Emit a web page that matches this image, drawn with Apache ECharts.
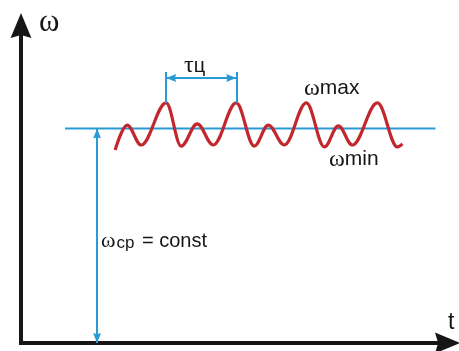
<!DOCTYPE html>
<html>
<head>
<meta charset="utf-8">
<script src="https://cdn.jsdelivr.net/npm/echarts@6/dist/echarts.min.js"></script>
<style>
  html, body { margin: 0; padding: 0; background: #fff; }
  #chart { width: 459px; height: 351px; }
</style>
</head>
<body>
<div id="chart"></div>
<script>
// time axis (t) and angular speed (ω), arbitrary units
const tRange = [0, 21.3];
const wRange = [0, 14.8];

// extrema of the speed curve
const curveT = [4.70, 5.30, 6.00, 7.25, 8.00, 8.80, 9.60, 10.75, 11.65, 12.35, 13.15, 14.25, 15.15, 15.85, 16.55, 17.80, 18.80, 19.05];
const curveW = [9.00, 10.16, 9.23, 11.19, 9.18, 10.21, 9.23, 11.19, 9.18, 10.16, 9.23, 11.19, 9.14, 10.12, 9.23, 11.19, 9.14, 9.28];

// mean speed line
const wMean = 10;
const meanT = [2.2, 20.7];
const meanArrowT = 3.8;

// cycle period marker (between two maxima)
const periodT = [7.25, 10.75];
const periodPeak = 11.19;
const periodLevel = 12.35;
const periodTop = 12.63;

const RED = '#c1272d';
const BLUE = '#2a9ad5';
const INK = '#161616';
const SERIF = '"Liberation Serif", "DejaVu Serif", serif';
const SANS = '"Liberation Sans", Arial, sans-serif';

const chart = echarts.init(document.getElementById('chart'));

const headPath = 'path://M5,0 L10,12 L5,10.5 L0,12 Z';
const axisLine = {
  show: true,
  onZero: true,
  symbol: ['none', headPath],
  symbolSize: [23, 25],
  lineStyle: { color: INK, width: 4, cap: 'square' }
};

const curve = curveT.map((t, i) => [t, curveW[i]]);
const mean = meanT.map(t => [t, wMean]);

const arrowEnd = { symbol: headPath, symbolSize: [8, 10], symbolOffset: [0, 5] };

const option = {
  animation: false,
  backgroundColor: '#fff',
  grid: { left: 21, right: 11.5, top: 25.5, bottom: 8 },
  xAxis: {
    type: 'value', min: tRange[0], max: tRange[1],
    axisLine: axisLine,
    axisTick: { show: false }, axisLabel: { show: false }, splitLine: { show: false }
  },
  yAxis: {
    type: 'value', min: wRange[0], max: wRange[1],
    axisLine: axisLine,
    axisTick: { show: false }, axisLabel: { show: false }, splitLine: { show: false }
  },
  series: [
    {
      name: 'ωcp',
      type: 'line',
      data: mean,
      symbol: 'none',
      silent: true,
      lineStyle: { color: BLUE, width: 2 },
      markLine: {
        silent: true,
        animation: false,
        label: { show: false },
        lineStyle: { color: BLUE, width: 2, type: 'solid' },
        data: [
          [
            Object.assign({ coord: [meanArrowT, 0] }, arrowEnd),
            Object.assign({ coord: [meanArrowT, wMean] }, arrowEnd)
          ],
          [
            Object.assign({ coord: [periodT[0], periodLevel] }, arrowEnd),
            Object.assign({ coord: [periodT[1], periodLevel] }, arrowEnd)
          ],
          [
            { coord: [periodT[0], periodPeak], symbol: 'none' },
            { coord: [periodT[0], periodTop], symbol: 'none' }
          ],
          [
            { coord: [periodT[1], periodPeak], symbol: 'none' },
            { coord: [periodT[1], periodTop], symbol: 'none' }
          ]
        ]
      }
    },
    {
      name: 'ω',
      type: 'line',
      data: curve,
      symbol: 'none',
      silent: true,
      smooth: 0.36,
      smoothMonotone: 'x',
      lineStyle: { color: RED, width: 3.2 }
    }
  ],
  graphic: [
    { type: 'text', x: 39, y: 23, style: { text: 'ω', font: '31px ' + SERIF, fill: INK, verticalAlign: 'middle' } },
    { type: 'text', x: 448, y: 323, style: { text: 't', font: '23px ' + SANS, fill: INK, verticalAlign: 'middle' } },
    {
      type: 'text', x: 184, y: 66,
      style: {
        text: '{a|τ}{b|ц}', fill: INK, verticalAlign: 'middle',
        rich: { a: { font: '24px ' + SERIF, fill: INK }, b: { font: '20px ' + SANS, fill: INK } }
      }
    },
    {
      type: 'text', x: 304, y: 88.5,
      style: {
        text: '{a|ω}{b|max}', fill: INK, verticalAlign: 'middle',
        rich: { a: { font: '24px ' + SERIF, fill: INK }, b: { font: '21px ' + SANS, fill: INK } }
      }
    },
    {
      type: 'text', x: 329, y: 159.5,
      style: {
        text: '{a|ω}{b|min}', fill: INK, verticalAlign: 'middle',
        rich: { a: { font: '24px ' + SERIF, fill: INK }, b: { font: '21px ' + SANS, fill: INK } }
      }
    },
    {
      type: 'text', x: 101, y: 241,
      style: {
        text: '{a|ω}{b|cp}{c| = const}', fill: INK, verticalAlign: 'middle',
        rich: {
          a: { font: '22px ' + SERIF, fill: INK },
          b: { font: '17px ' + SANS, fill: INK, verticalAlign: 'bottom', padding: [0, 2, 0, 1] },
          c: { font: '20px ' + SANS, fill: INK }
        }
      }
    }
  ]
};

chart.setOption(option);
</script>
</body>
</html>
